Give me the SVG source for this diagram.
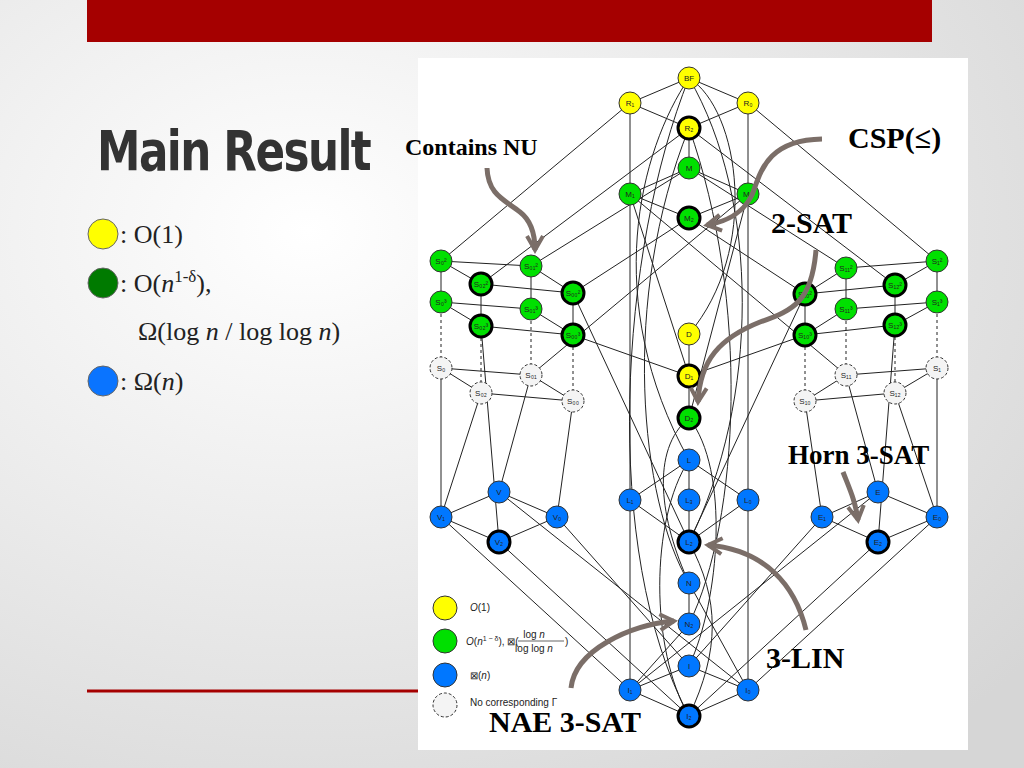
<svg xmlns="http://www.w3.org/2000/svg" width="1024" height="768" viewBox="0 0 1024 768">
<defs>
<radialGradient id="bg" cx="0.3" cy="0.3" r="0.9"><stop offset="0" stop-color="#ffffff"/><stop offset="1" stop-color="#d6d6d6"/></radialGradient>
<marker id="ah" viewBox="0 0 10 10" refX="8" refY="5" markerWidth="4" markerHeight="4" orient="auto"><path d="M1,1 L8,5 L1,9" fill="none" stroke="#7b6e68" stroke-width="2"/></marker>
</defs>
<style>
.e{stroke:#222;stroke-width:1;fill:none}
.d{stroke:#222;stroke-width:1;fill:none;stroke-dasharray:3,3}
.y{fill:#ffff00;stroke:#333;stroke-width:1}
.g{fill:#00e000;stroke:#333;stroke-width:1}
.b{fill:#0077ff;stroke:#333;stroke-width:1}
.w{fill:#f4f4f4;stroke:#333;stroke-width:1;stroke-dasharray:3,2}
.k{stroke:#000;stroke-width:3}
.nt{font-family:"Liberation Sans",Arial,sans-serif;font-size:8px;fill:#222;text-anchor:middle}
.ann{font-family:"Liberation Serif","Times New Roman",serif;font-weight:bold;fill:#000}
.arr{stroke:#7b6e68;stroke-width:5;fill:none;marker-end:url(#ah)}
.lt{font-family:"Liberation Serif","Times New Roman",serif;font-size:26px;fill:#222}
</style>
<rect width="1024" height="768" fill="url(#bg)"/>
<rect x="87" y="0" width="845" height="42" fill="#a50000"/>
<line x1="87" y1="691" x2="430" y2="691" stroke="#a50000" stroke-width="3"/>
<text transform="translate(97,170) scale(0.78,1)" font-family="'DejaVu Sans','Liberation Sans',sans-serif" font-weight="bold" font-size="56" fill="#333" letter-spacing="-2">Main Result</text>
<g id="legend-left">
<circle cx="103" cy="234" r="15" fill="#ffff00" stroke="#666"/>
<circle cx="103" cy="283" r="15" fill="#007a00" stroke="#666"/>
<circle cx="103" cy="381" r="15" fill="#0a74ff" stroke="#666"/>
<text class="lt" x="120" y="243">: O(1)</text>
<text class="lt" x="120" y="292">: O(<tspan font-style="italic">n</tspan><tspan font-size="17" dy="-10">1-δ</tspan><tspan dy="10">),</tspan></text>
<text class="lt" x="138" y="340">Ω(log <tspan font-style="italic">n</tspan> / log log <tspan font-style="italic">n</tspan>)</text>
<text class="lt" x="120" y="390">: Ω(<tspan font-style="italic">n</tspan>)</text>
</g>
<rect x="418" y="58" width="550" height="692" fill="#ffffff"/>
<g id="connectors">
<path class="e" d="M689,78L630,103M689,78L748,103M630,103L689,128M748,103L689,128M689,128L689,168M689,168L630,194M689,168L748,194M630,194L689,218M748,194L689,218"/>
<path class="e" d="M630,103L441,261M748,103L937,261M630,103L630,500M748,103L748,500M689,128L481,284M689,128L895,285M689,168L531,266M689,168L846,268M689,218L573,293M689,218L805,294M630,194L846,375M748,194L531,375"/>
<path class="e" d="M689,78C740,110 760,250 689,334M689,78C640,150 600,300 689,460M689,78C760,200 760,400 689,542M689,128C620,300 640,500 689,583M689,128C750,300 740,520 689,624M689,78C620,250 600,550 689,716M689,334L689,418M630,194L689,376M748,194L689,418M689,376L573,335M689,376L805,335"/>
<path class="e" d="M441,261L531,266M441,261L481,284M531,266L573,293M481,284L573,293M441,261L441,302M481,284L481,326M531,266L531,309M573,293L573,335M441,302L531,309M441,302L481,326M531,309L573,335M481,326L573,335M441,368L531,375M441,368L481,393M531,375L573,401M481,393L573,401"/>
<path class="d" d="M441,302L441,368M481,326L481,393M531,309L531,375M573,335L573,401M937,302L937,368M895,325L895,393M846,309L846,375M805,335L805,401"/>
<path class="e" d="M937,261L846,268M937,261L895,285M846,268L805,294M895,285L805,294M937,261L937,302M895,285L895,325M846,268L846,309M805,294L805,335M937,302L846,309M937,302L895,325M846,309L805,335M895,325L805,335M937,368L846,375M937,368L895,393M846,375L805,401M895,393L805,401"/>
<path class="e" d="M441,368L441,517M531,375L499,492M481,393L441,517M573,401L557,517M573,293L689,542M481,326L499,542M937,368L937,517M846,375L878,492M895,393L937,517M805,401L822,517M805,294L689,542M895,325L878,542"/>
<path class="e" d="M441,517L499,492M499,492L557,517M441,517L499,542M557,517L499,542M822,517L878,492M878,492L937,517M822,517L878,542M937,517L878,542"/>
<path class="e" d="M441,517L630,690M499,542L689,716M499,492L748,690M557,517L689,666M937,517L748,690M878,542L689,716M878,492L630,690M822,517L689,666"/>
<path class="e" d="M689,460L630,500M689,460L748,500M689,460L689,500M689,500L689,542M630,500L689,542M748,500L689,542M630,500L630,690M748,500L748,690M689,583L689,624M689,583L748,690M689,624L630,690M689,666L630,690M689,666L748,690M630,690L689,716M748,690L689,716M689,418C650,450 660,520 689,583M689,418C730,470 720,600 689,666M689,460C650,520 650,650 689,716M689,542C720,600 720,650 689,716"/>
</g>
<g id="nodes">
<g id="BF"><circle class="y" cx="689" cy="78" r="11"/><text class="nt" x="689" y="81">BF</text></g>
<g id="R1"><circle class="y" cx="630" cy="103" r="11"/><text class="nt" x="630" y="106">R₁</text></g>
<g id="R0"><circle class="y" cx="748" cy="103" r="11"/><text class="nt" x="748" y="106">R₀</text></g>
<g id="R2"><circle class="y k" cx="689" cy="128" r="11"/><text class="nt" x="689" y="131">R₂</text></g>
<g id="M"><circle class="g" cx="689" cy="168" r="11"/><text class="nt" x="689" y="171">M</text></g>
<g id="M1"><circle class="g" cx="630" cy="194" r="11"/><text class="nt" x="630" y="197">M₁</text></g>
<g id="M0"><circle class="g" cx="748" cy="194" r="11"/><text class="nt" x="748" y="197">M₀</text></g>
<g id="M2"><circle class="g k" cx="689" cy="218" r="11"/><text class="nt" x="689" y="221">M₂</text></g>
<g id="S02"><circle class="g" cx="441" cy="261" r="11"/><text class="nt" x="441" y="264">S₀²</text></g>
<g id="S012"><circle class="g" cx="531" cy="266" r="11"/><text class="nt" x="531" y="269">S₀₁²</text></g>
<g id="S022"><circle class="g k" cx="481" cy="284" r="11"/><text class="nt" x="481" y="287">S₀₂²</text></g>
<g id="S002"><circle class="g k" cx="573" cy="293" r="11"/><text class="nt" x="573" y="296">S₀₀²</text></g>
<g id="S03"><circle class="g" cx="441" cy="302" r="11"/><text class="nt" x="441" y="305">S₀³</text></g>
<g id="S013"><circle class="g" cx="531" cy="309" r="11"/><text class="nt" x="531" y="312">S₀₁³</text></g>
<g id="S023"><circle class="g k" cx="481" cy="326" r="11"/><text class="nt" x="481" y="329">S₀₂³</text></g>
<g id="S003"><circle class="g k" cx="573" cy="335" r="11"/><text class="nt" x="573" y="338">S₀₀³</text></g>
<g id="S0"><circle class="w" cx="441" cy="368" r="11"/><text class="nt" x="441" y="371">S₀</text></g>
<g id="S01"><circle class="w" cx="531" cy="375" r="11"/><text class="nt" x="531" y="378">S₀₁</text></g>
<g id="S02b"><circle class="w" cx="481" cy="393" r="11"/><text class="nt" x="481" y="396">S₀₂</text></g>
<g id="S00"><circle class="w" cx="573" cy="401" r="11"/><text class="nt" x="573" y="404">S₀₀</text></g>
<g id="S12"><circle class="g" cx="937" cy="261" r="11"/><text class="nt" x="937" y="264">S₁²</text></g>
<g id="S112"><circle class="g" cx="846" cy="268" r="11"/><text class="nt" x="846" y="271">S₁₁²</text></g>
<g id="S122"><circle class="g k" cx="895" cy="285" r="11"/><text class="nt" x="895" y="288">S₁₂²</text></g>
<g id="S102"><circle class="g k" cx="805" cy="294" r="11"/><text class="nt" x="805" y="297">S₁₀²</text></g>
<g id="S13"><circle class="g" cx="937" cy="302" r="11"/><text class="nt" x="937" y="305">S₁³</text></g>
<g id="S113"><circle class="g" cx="846" cy="309" r="11"/><text class="nt" x="846" y="312">S₁₁³</text></g>
<g id="S123"><circle class="g k" cx="895" cy="325" r="11"/><text class="nt" x="895" y="328">S₁₂³</text></g>
<g id="S103"><circle class="g k" cx="805" cy="335" r="11"/><text class="nt" x="805" y="338">S₁₀³</text></g>
<g id="S1"><circle class="w" cx="937" cy="368" r="11"/><text class="nt" x="937" y="371">S₁</text></g>
<g id="S11"><circle class="w" cx="846" cy="375" r="11"/><text class="nt" x="846" y="378">S₁₁</text></g>
<g id="S12b"><circle class="w" cx="895" cy="393" r="11"/><text class="nt" x="895" y="396">S₁₂</text></g>
<g id="S10"><circle class="w" cx="805" cy="401" r="11"/><text class="nt" x="805" y="404">S₁₀</text></g>
<g id="D"><circle class="y" cx="689" cy="334" r="11"/><text class="nt" x="689" y="337">D</text></g>
<g id="D1"><circle class="y k" cx="689" cy="376" r="11"/><text class="nt" x="689" y="379">D₁</text></g>
<g id="D2"><circle class="g k" cx="689" cy="418" r="11"/><text class="nt" x="689" y="421">D₂</text></g>
<g id="L"><circle class="b" cx="689" cy="460" r="11"/><text class="nt" x="689" y="463">L</text></g>
<g id="L1"><circle class="b" cx="630" cy="500" r="11"/><text class="nt" x="630" y="503">L₁</text></g>
<g id="L3"><circle class="b" cx="689" cy="500" r="11"/><text class="nt" x="689" y="503">L₃</text></g>
<g id="L0"><circle class="b" cx="748" cy="500" r="11"/><text class="nt" x="748" y="503">L₀</text></g>
<g id="L2"><circle class="b k" cx="689" cy="542" r="11"/><text class="nt" x="689" y="545">L₂</text></g>
<g id="N"><circle class="b" cx="689" cy="583" r="11"/><text class="nt" x="689" y="586">N</text></g>
<g id="N2"><circle class="b" cx="689" cy="624" r="11"/><text class="nt" x="689" y="627">N₂</text></g>
<g id="I"><circle class="b" cx="689" cy="666" r="11"/><text class="nt" x="689" y="669">I</text></g>
<g id="I1"><circle class="b" cx="630" cy="690" r="11"/><text class="nt" x="630" y="693">I₁</text></g>
<g id="I0"><circle class="b" cx="748" cy="690" r="11"/><text class="nt" x="748" y="693">I₀</text></g>
<g id="I2"><circle class="b k" cx="689" cy="716" r="11"/><text class="nt" x="689" y="719">I₂</text></g>
<g id="V"><circle class="b" cx="499" cy="492" r="11"/><text class="nt" x="499" y="495">V</text></g>
<g id="V1"><circle class="b" cx="441" cy="517" r="11"/><text class="nt" x="441" y="520">V₁</text></g>
<g id="V0"><circle class="b" cx="557" cy="517" r="11"/><text class="nt" x="557" y="520">V₀</text></g>
<g id="V2"><circle class="b k" cx="499" cy="542" r="11"/><text class="nt" x="499" y="545">V₂</text></g>
<g id="E"><circle class="b" cx="878" cy="492" r="11"/><text class="nt" x="878" y="495">E</text></g>
<g id="E1"><circle class="b" cx="822" cy="517" r="11"/><text class="nt" x="822" y="520">E₁</text></g>
<g id="E0"><circle class="b" cx="937" cy="517" r="11"/><text class="nt" x="937" y="520">E₀</text></g>
<g id="E2"><circle class="b k" cx="878" cy="542" r="11"/><text class="nt" x="878" y="545">E₂</text></g>
</g>
<g id="legend">
<circle class="y" cx="445" cy="608" r="12"/>
<circle class="g" cx="445" cy="641" r="12"/>
<circle class="b" cx="445" cy="675" r="12"/>
<circle class="w" cx="445" cy="705" r="12" fill="#fff"/>
<g font-family="'Liberation Sans',Arial,sans-serif" font-size="10" fill="#222">
<text x="470" y="611"><tspan font-style="italic">O</tspan>(1)</text>
<text x="466" y="645"><tspan font-style="italic">O</tspan>(<tspan font-style="italic">n</tspan><tspan font-size="7" dy="-4">1 − δ</tspan><tspan dy="4">), ⊠(</tspan></text>
<text x="534" y="638" text-anchor="middle">log <tspan font-style="italic">n</tspan></text>
<line x1="518" y1="641" x2="564" y2="641" stroke="#222" stroke-width="0.7"/>
<text x="534" y="652" text-anchor="middle">log log <tspan font-style="italic">n</tspan></text>
<text x="565" y="645">)</text>
<text x="470" y="679">⊠(<tspan font-style="italic">n</tspan>)</text>
<text x="470" y="706">No corresponding Γ</text>
</g>
</g>
<g id="annotations">
<path class="arr" d="M822,139C765,140 760,175 752,195C742,215 725,222 707,225"/>
<path class="arr" d="M487,168C488,195 505,200 520,212C533,222 535,238 535,250"/>
<path class="arr" d="M816,250C812,300 795,310 760,322C720,338 700,360 698,402"/>
<path class="arr" d="M843,472C850,490 855,500 858,520"/>
<path class="arr" d="M806,630C795,585 765,550 708,545"/>
<path class="arr" d="M571,688C575,650 630,625 674,621"/>
<text class="ann" x="405" y="155" font-size="24">Contains NU</text>
<text class="ann" x="848" y="148" font-size="30">CSP(≤)</text>
<text class="ann" x="771" y="233" font-size="30">2-SAT</text>
<text class="ann" x="788" y="464" font-size="27">Horn 3-SAT</text>
<text class="ann" x="766" y="668" font-size="30">3-LIN</text>
<text class="ann" x="489" y="732" font-size="30">NAE 3-SAT</text>
</g>
</svg>
